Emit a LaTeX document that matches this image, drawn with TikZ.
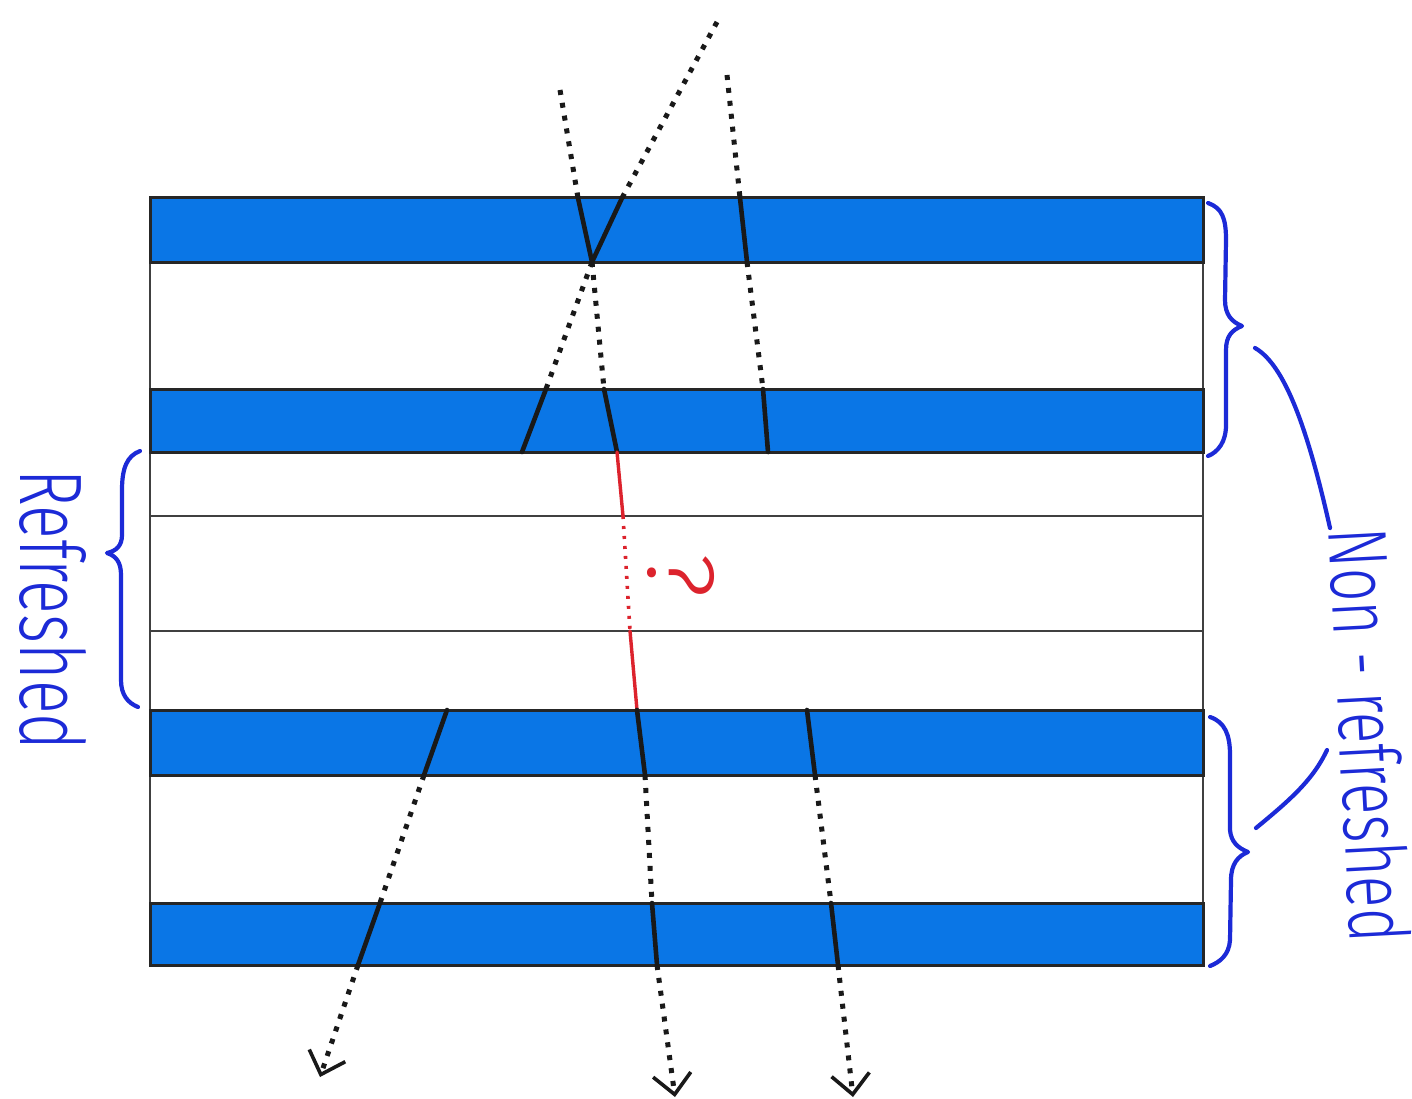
\documentclass[tikz,border=0pt]{standalone}
\usepackage{fontspec}
\IfFontExistsTF{Fira Sans Light}{\newfontfamily\hand{Fira Sans Light}}{\newfontfamily\hand{Fira Sans}}
\usetikzlibrary{arrows.meta}
\definecolor{bandblue}{RGB}{10,118,230}
\definecolor{inkblue}{RGB}{28,42,215}
\definecolor{inkred}{RGB}{220,35,45}
\begin{document}
\begin{tikzpicture}[x=1pt,y=-1pt,
  band/.style={fill=bandblue,draw=black!85,line width=3pt},
  gap/.style={draw=black!75,line width=2.4pt},
  ray/.style={line width=4.6pt,black!90,line cap=round},
  dots/.style={line width=5pt,dash pattern=on 5pt off 8pt,black!90},
  rsolid/.style={line width=3.4pt,inkred,line cap=round},
  rdots/.style={line width=3.6pt,dash pattern=on 3pt off 7pt,inkred},
  ink/.style={inkblue,line width=4.2pt,line cap=round,line join=round},
  tip/.style={-{Straight Barb[length=20pt,width=38pt,line width=3.6pt]}}
]
\useasboundingbox (0,0) rectangle (1412,1099);
\fill[white] (0,0) rectangle (1412,1099);

% stack of rows
\draw[gap,fill=white] (150,198) rectangle (1203,965);
\draw[band] (150,198) rectangle (1203,262);
\draw[band] (150,389) rectangle (1203,452);
\draw[gap] (150,516) -- (1203,516);
\draw[gap] (150,631) -- (1203,631);
\draw[band] (150,710) rectangle (1203,775);
\draw[band] (150,903) rectangle (1203,965);

% ray coordinates
\coordinate (a0) at (560,90);  \coordinate (a1) at (578,198); \coordinate (v) at (592,262);
\coordinate (b0) at (717,22);  \coordinate (b1) at (622,198);
\coordinate (c0) at (727,75);  \coordinate (c1) at (740,198); \coordinate (c2) at (747,262);
\coordinate (c3) at (763,389); \coordinate (c4) at (768,452);
\coordinate (l1) at (546,389); \coordinate (l2) at (522,452);
\coordinate (m1) at (604,389); \coordinate (m2) at (617,452); \coordinate (m3) at (623,516);
\coordinate (m4) at (630,631); \coordinate (m5) at (637,710); \coordinate (m6) at (645,775);
\coordinate (m7) at (652,903); \coordinate (m8) at (657,965); \coordinate (m9) at (675,1097);
\coordinate (p1) at (447,710); \coordinate (p2) at (424,775); \coordinate (p3) at (380,903);
\coordinate (p4) at (358,965); \coordinate (p5) at (320,1077);
\coordinate (r1) at (807,710); \coordinate (r2) at (815,775); \coordinate (r3) at (831,903);
\coordinate (r4) at (838,965); \coordinate (r5) at (853,1097);

% incoming rays
\draw[dots] (a0) -- (a1);
\draw[ray] (a1) -- (v);
\draw[dots] (b0) -- (b1);
\draw[ray] (b1) -- (v);
\draw[dots] (c0) -- (c1);
\draw[ray] (c1) -- (c2);
\draw[dots] (c2) -- (c3);
\draw[ray] (c3) -- (c4);
\draw[dots] (v) -- (l1);
\draw[ray] (l1) -- (l2);
\draw[dots] (v) -- (m1);
\draw[ray] (m1) -- (m2);

% unknown part (red)
\draw[rsolid] (m2) -- (m3);
\draw[rdots] (m3) -- (m4);
\draw[rsolid] (m4) -- (m5);

% outgoing rays
\draw[ray] (m5) -- (m6);
\draw[dots] (m6) -- (m7);
\draw[ray] (m7) -- (m8);
\draw[dots,tip] (m8) -- (m9);
\draw[ray] (p1) -- (p2);
\draw[dots] (p2) -- (p3);
\draw[ray] (p3) -- (p4);
\draw[dots,tip] (p4) -- (p5);
\draw[ray] (r1) -- (r2);
\draw[dots] (r2) -- (r3);
\draw[ray] (r3) -- (r4);
\draw[dots,tip] (r4) -- (r5);

% question mark
\node[rotate=-90,text=inkred,inner sep=0pt] (q) at (681,576) {\resizebox{46pt}{66pt}{\hand ?}};

% labels
\node[rotate=-90,text=inkblue,inner sep=0pt] (refl) at (53,610) {\resizebox{280pt}{66pt}{\hand Refreshed}};
\node[rotate=-87,text=inkblue,inner sep=0pt] (nonl) at (1370,735) {\resizebox{415pt}{62pt}{\hand Non - refreshed}};

% braces
\draw[ink] (140,451) .. controls (127,456) and (122,468) .. (122,490) -- (122,535)
  .. controls (122,546) and (116,551) .. (107,553)
  .. controls (116,556) and (121,562) .. (121,575) -- (121,680)
  .. controls (121,695) and (128,703) .. (138,707);
\draw[ink] (1208,203) .. controls (1222,208) and (1226,218) .. (1226,240) -- (1225,300)
  .. controls (1225,315) and (1232,322) .. (1242,326)
  .. controls (1232,330) and (1226,336) .. (1226,350) -- (1226,425)
  .. controls (1226,442) and (1218,452) .. (1208,456);
\draw[ink] (1210,717) .. controls (1225,722) and (1230,735) .. (1230,755) -- (1230,830)
  .. controls (1231,842) and (1238,848) .. (1248,852)
  .. controls (1238,856) and (1231,864) .. (1231,880) -- (1230,940)
  .. controls (1229,955) and (1220,962) .. (1210,966);

% leader lines
\coordinate (u0) at (1255,348);
\coordinate (u1) at (1330,528);
\coordinate (w0) at (1327,750);
\coordinate (w1) at (1256,828);
\draw[ink] (u0) .. controls (1285,365) and (1308,430) .. (u1);
\draw[ink] (w0) .. controls (1313,780) and (1290,800) .. (w1);
\end{tikzpicture}
\end{document}
